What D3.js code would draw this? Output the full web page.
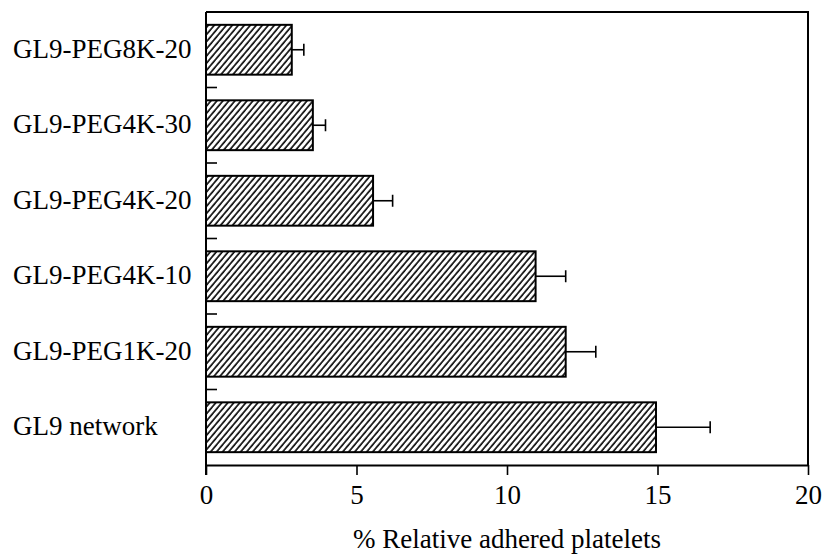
<!DOCTYPE html>
<html>
<head>
<meta charset="utf-8">
<script src="https://cdn.jsdelivr.net/npm/d3@7"></script>
<style>
  body { margin: 0; background: #fff; }
  text { font-family: "Liberation Serif", "Times New Roman", serif; fill: #000; }
</style>
</head>
<body>
<div id="chart"></div>
<script>
// DATA
const categories = ["GL9-PEG8K-20", "GL9-PEG4K-30", "GL9-PEG4K-20", "GL9-PEG4K-10", "GL9-PEG1K-20", "GL9 network"];
const values = [2.85, 3.55, 5.55, 10.95, 11.95, 14.95];
const errors = [0.4, 0.42, 0.65, 1.0, 1.0, 1.8];
const xTicks = [0, 5, 10, 15, 20];
const xTitle = "% Relative adhered platelets";

const width = 826, height = 556;
const margin = {top: 12, right: 18, bottom: 91, left: 206};

const rows = categories.map((c, i) => ({name: c, value: values[i], err: errors[i]}));

const svg = d3.select("#chart").append("svg")
    .attr("width", width)
    .attr("height", height);

// hatch pattern "////"
svg.append("defs").append("pattern")
    .attr("id", "hatch")
    .attr("patternUnits", "userSpaceOnUse")
    .attr("width", 4.6)
    .attr("height", 10)
    .attr("patternTransform", "rotate(40)")
  .append("line")
    .attr("x1", 1).attr("y1", 0)
    .attr("x2", 1).attr("y2", 10)
    .attr("stroke", "#000")
    .attr("stroke-width", 1.6);

// SCALES
const xScale = d3.scaleLinear()
    .domain([0, 20])
    .range([margin.left, width - margin.right]);

const yScale = d3.scaleBand()
    .domain(categories)
    .range([margin.top, height - margin.bottom])
    .paddingInner(0.34)
    .paddingOuter(0.17);

const x0 = xScale(0), x1 = xScale(20);
const y0 = margin.top, y1 = height - margin.bottom;

// BARS
svg.append("g")
  .selectAll("rect")
  .data(rows)
  .join("rect")
    .attr("x", xScale(0))
    .attr("y", d => yScale(d.name))
    .attr("width", d => xScale(d.value) - xScale(0))
    .attr("height", yScale.bandwidth())
    .attr("fill", "url(#hatch)")
    .attr("stroke", "#000")
    .attr("stroke-width", 2);

// ERROR BARS
const eb = svg.append("g").selectAll("g")
  .data(rows)
  .join("g")
    .attr("stroke", "#000")
    .attr("stroke-width", 1.6);
eb.append("line")
    .attr("x1", d => xScale(d.value))
    .attr("x2", d => xScale(d.value + d.err))
    .attr("y1", d => yScale(d.name) + yScale.bandwidth() / 2)
    .attr("y2", d => yScale(d.name) + yScale.bandwidth() / 2);
eb.append("line")
    .attr("x1", d => xScale(d.value + d.err))
    .attr("x2", d => xScale(d.value + d.err))
    .attr("y1", d => yScale(d.name) + yScale.bandwidth() / 2 - 6)
    .attr("y2", d => yScale(d.name) + yScale.bandwidth() / 2 + 6);

// FRAME (top + right border)
svg.append("path")
    .attr("d", `M${x0},${y0}H${x1}V${y1}`)
    .attr("fill", "none")
    .attr("stroke", "#000")
    .attr("stroke-width", 2);

// X AXIS
const xAxis = d3.axisBottom(xScale)
    .tickValues(xTicks)
    .tickSize(10)
    .tickSizeOuter(0)
    .tickPadding(10);
const xg = svg.append("g")
    .attr("transform", `translate(0,${y1})`)
    .call(xAxis);
xg.select(".domain").attr("stroke-width", 2);
xg.selectAll(".tick line").attr("stroke-width", 1.6);
xg.selectAll(".tick text")
    .attr("font-size", 27)
    .attr("font-family", "Liberation Serif");

// Y AXIS (line + inward ticks between bands)
const step = yScale.step();
const gapTicks = categories.slice(0, -1).map(c => yScale(c) + yScale.bandwidth() + (step - yScale.bandwidth()) / 2);
svg.append("line")
    .attr("x1", x0).attr("x2", x0)
    .attr("y1", y0).attr("y2", y1 + 10)
    .attr("stroke", "#000")
    .attr("stroke-width", 2);
svg.append("g").selectAll("line")
  .data(gapTicks)
  .join("line")
    .attr("x1", x0).attr("x2", x0 + 11)
    .attr("y1", d => d).attr("y2", d => d)
    .attr("stroke", "#000")
    .attr("stroke-width", 1.6);

// CATEGORY LABELS (left aligned)
svg.append("g").selectAll("text")
  .data(rows)
  .join("text")
    .attr("x", 13)
    .attr("y", d => yScale(d.name) + yScale.bandwidth() / 2 + 8)
    .attr("font-size", 27)
    .text(d => d.name);

// X TITLE
svg.append("text")
    .attr("x", (x0 + x1) / 2)
    .attr("y", 548)
    .attr("text-anchor", "middle")
    .attr("font-size", 27)
    .text(xTitle);
</script>
</body>
</html>
